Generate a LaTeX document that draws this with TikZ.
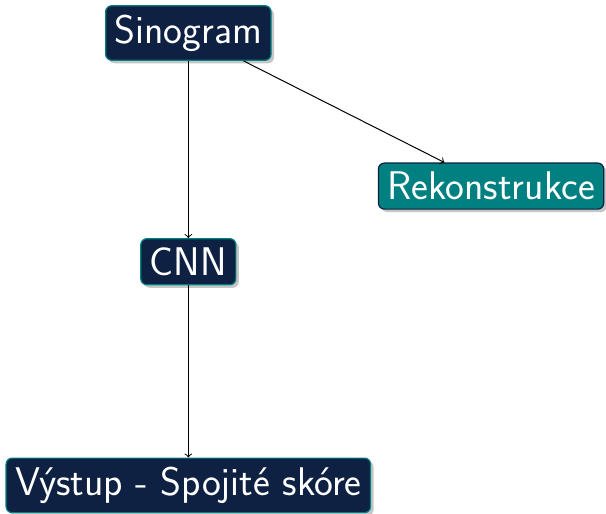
\documentclass[tikz,border=0pt]{standalone}
\usepackage{tikz}
\usetikzlibrary{arrows,shadows}
\definecolor{navy}{RGB}{14,33,66}
\definecolor{tealc}{RGB}{0,128,128}
\tikzset{
  block/.style={draw=tealc, fill=navy, text=white, rounded corners=3pt, line width=0.6pt,
    inner sep=4.5pt, font=\fontsize{20}{24}\selectfont\sffamily,
    drop shadow={shadow xshift=1.5pt, shadow yshift=-1.5pt, opacity=0.45}},
  result/.style={block, draw=navy, fill=tealc}
}

\begin{document}
\begin{tikzpicture}[line width=0.5pt]
          \useasboundingbox (0,0) rectangle (10.65,9.03);
          \node[block] (Sinogram) at (3.31,8.45) {Sinogram};
          \node[block] (CNN) at (3.31,4.43) {CNN};
          \node[result] (Rekonstrukce) at (8.63,5.76) {Rekonstrukce};
          \node[block] (Vystup) at (3.31,0.50) {Výstup - Spojité skóre};

          \draw[->] (Sinogram) to (CNN);
          \draw[->] (Sinogram) to (Rekonstrukce);
          \draw[->] (CNN) to (Vystup);
        \end{tikzpicture}
\end{document}
